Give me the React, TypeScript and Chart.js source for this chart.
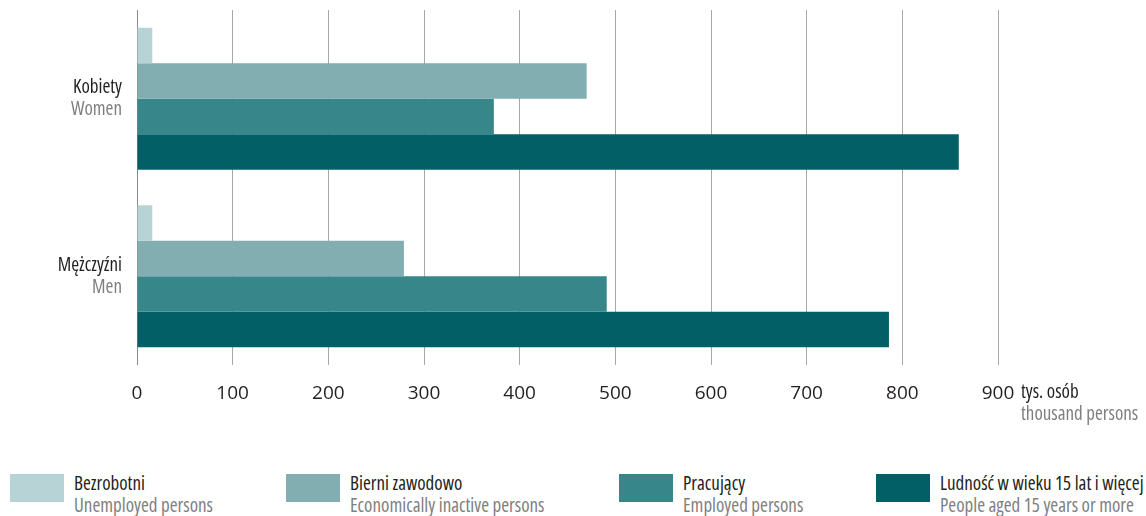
import React, { useEffect, useRef } from 'react';
import { Chart, registerables } from 'chart.js';

Chart.register(...registerables);

const categoriesPl = ['Kobiety', 'Mężczyźni'];
const categoriesEn = ['Women', 'Men'];
const seriesPl = ['Bezrobotni', 'Bierni zawodowo', 'Pracujący', 'Ludność w wieku 15 lat i więcej'];
const seriesEn = ['Unemployed persons', 'Economically inactive persons', 'Employed persons', 'People aged 15 years or more'];
const unemployed = [16, 16];
const inactive = [470, 279];
const employed = [373, 491];
const population = [859, 786];
const xTickValues = [0, 100, 200, 300, 400, 500, 600, 700, 800, 900];
const unitPl = 'tys. osób';
const unitEn = 'thousand persons';

const colors = ['#b8d3d6', '#82adb1', '#37868a', '#025f66'];
const FAMILY = "'Open Sans', sans-serif";
const SIZE = 19;
const DARK = '#231f20';
const GREY = '#7f7f7f';

const legendLefts = [10, 286, 619, 876];

export default function App() {
  const ref = useRef<HTMLCanvasElement | null>(null);

  useEffect(() => {
    document.body.style.margin = '0';
    const canvas = ref.current;
    if (!canvas) return;
    const labelsPlugin = {
      id: 'sideLabels',
      afterDraw(chart: any) {
        const ctx = chart.ctx;
        const y = chart.scales.y;
        const area = chart.chartArea;
        ctx.save();
        ctx.font = `condensed ${SIZE}px ${FAMILY}`;
        ctx.textAlign = 'right';
        ctx.textBaseline = 'middle';
        categoriesPl.forEach((c, i) => {
          const py = y.getPixelForValue(i);
          ctx.fillStyle = DARK;
          ctx.fillText(c, 122, py - 11);
          ctx.fillStyle = GREY;
          ctx.fillText(categoriesEn[i], 122, py + 11);
        });
        ctx.textAlign = 'left';
        ctx.fillStyle = DARK;
        ctx.fillText(unitPl, 1021, area.bottom + 28);
        ctx.fillStyle = GREY;
        ctx.fillText(unitEn, 1021, area.bottom + 50);
        ctx.restore();
      },
    };
    const datasets = [unemployed, inactive, employed, population].map((d, i) => ({
      label: seriesPl[i],
      data: d,
      backgroundColor: colors[i],
      borderWidth: 0,
      barPercentage: 1.0,
      categoryPercentage: 0.8,
    }));
    const chart = new Chart(canvas, {
      type: 'bar',
      data: { labels: categoriesPl, datasets },
      options: {
        indexAxis: 'y',
        animation: false,
        responsive: false,
        maintainAspectRatio: false,
        layout: { padding: { left: 137, right: 148, top: 10, bottom: 0 } },
        plugins: { legend: { display: false }, tooltip: { enabled: false } },
        scales: {
          y: { display: false },
          x: {
            min: 0,
            max: 900,
            afterBuildTicks: (s: any) => {
              s.ticks = xTickValues.map((v) => ({ value: v }));
            },
            afterFit: (s: any) => {
              s.height = 75;
            },
            border: { display: false },
            grid: {
              color: (c: any) => (c.index === 0 ? '#8a8a8a' : '#a8a8a8'),
              lineWidth: 1,
              drawTicks: false,
            },
            ticks: {
              padding: 17,
              color: DARK,
              font: { family: FAMILY, size: SIZE, style: 'condensed' as any },
              maxRotation: 0,
            },
          },
        },
      },
      plugins: [labelsPlugin],
    });
    return () => chart.destroy();
  }, []);

  return (
    <div style={{ position: 'relative', width: 1146, height: 516, background: '#fff', overflow: 'hidden' }}>
      <canvas ref={ref} width={1146} height={440} style={{ position: 'absolute', left: 0, top: 0 }} />
      {seriesPl.map((s, i) => (
        <div key={s} style={{ position: 'absolute', left: legendLefts[i], top: 474 }}>
          <div style={{ position: 'absolute', left: 0, top: 0, width: 54, height: 28, background: colors[i] }} />
          <div
            style={{
              position: 'absolute',
              left: 64,
              top: -2,
              fontFamily: FAMILY,
              fontStretch: 'condensed',
              fontSize: SIZE,
              lineHeight: '22px',
              whiteSpace: 'nowrap',
            }}
          >
            <div style={{ color: DARK }}>{s}</div>
            <div style={{ color: GREY }}>{seriesEn[i]}</div>
          </div>
        </div>
      ))}
    </div>
  );
}
